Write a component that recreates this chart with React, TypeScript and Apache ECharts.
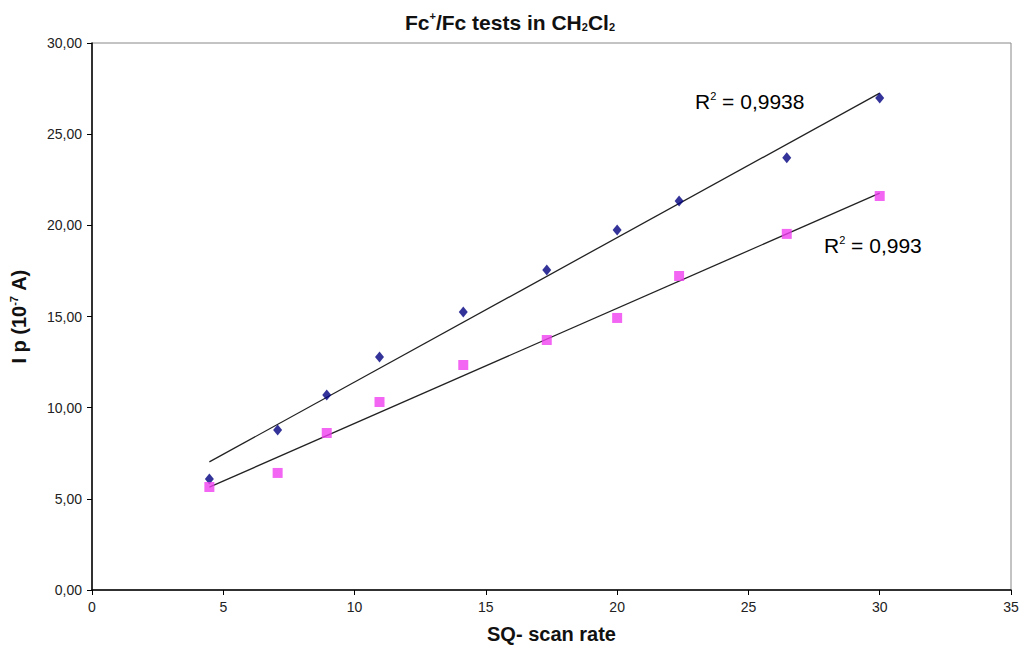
import React, { useEffect, useRef } from "react";
import * as echarts from "echarts";

// square root of the scan rate
const scanRateSqrt = [4.47, 7.07, 8.94, 10.95, 14.14, 17.32, 20.0, 22.36, 26.46, 30.0];
// peak currents, 10^-7 A
const seriesA = [6.09, 8.78, 10.7, 12.78, 15.25, 17.55, 19.75, 21.34, 23.7, 26.99];
const seriesB = [5.65, 6.42, 8.61, 10.31, 12.34, 13.71, 14.92, 17.22, 19.53, 21.61];
const r2Labels = ["0,9938", "0,993"];
const xTicks = [0, 5, 10, 15, 20, 25, 30, 35];

function linearFit(xs: number[], ys: number[]) {
  const n = xs.length;
  const mx = xs.reduce((a, b) => a + b, 0) / n;
  const my = ys.reduce((a, b) => a + b, 0) / n;
  let sxy = 0;
  let sxx = 0;
  for (let i = 0; i < n; i++) {
    sxy += (xs[i] - mx) * (ys[i] - my);
    sxx += (xs[i] - mx) * (xs[i] - mx);
  }
  const slope = sxy / sxx;
  const intercept = my - slope * mx;
  const x0 = xs[0];
  const x1 = xs[n - 1];
  return [
    [x0, slope * x0 + intercept],
    [x1, slope * x1 + intercept],
  ];
}

const font = "Arial, 'Liberation Sans', sans-serif";

export default function App() {
  const ref = useRef<HTMLDivElement>(null);
  useEffect(() => {
    const chart = echarts.init(ref.current!, null, { renderer: "svg" });
    const pairs = (ys: number[]) => scanRateSqrt.map((x, i) => [x, ys[i]]);
    const r2Rich = {
      b: { fontSize: 21, fontFamily: font, color: "#111" },
      s: { fontSize: 11, fontFamily: font, color: "#111", verticalAlign: "top", padding: [0, 0, 11, 0] },
    };
    chart.setOption({
      animation: false,
      backgroundColor: "#fff",
      title: {
        text: "{a|Fc}{sup|+}{a|/Fc tests in CH}{sub|2}{a|Cl}{sub|2}",
        left: "center",
        top: 5,
        textStyle: {
          rich: {
            a: { fontSize: 21, fontWeight: "bold", fontFamily: font, color: "#111" },
            sup: { fontSize: 11, fontWeight: "bold", fontFamily: font, color: "#111", padding: [0, 0, 13, 0] },
            sub: { fontSize: 11, fontWeight: "bold", fontFamily: font, color: "#111", padding: [10, 0, 0, 0] },
          },
        },
      },
      grid: {
        left: 92,
        right: 9,
        top: 43,
        bottom: 57,
        show: true,
        borderColor: "#888",
        borderWidth: 1,
        outerBoundsMode: "none",
      },
      xAxis: {
        type: "value",
        min: 0,
        max: 35,
        interval: 5,
        name: "SQ- scan rate",
        nameLocation: "middle",
        nameGap: 34,
        nameTextStyle: { fontSize: 20, fontWeight: "bold", fontFamily: font, color: "#111" },
        axisLine: { lineStyle: { color: "#000", width: 1.5 } },
        axisTick: { show: true, length: 5, lineStyle: { color: "#000" } },
        axisLabel: {
          fontSize: 14,
          fontFamily: font,
          color: "#222",
          margin: 10,
          formatter: (v: number) => (xTicks.includes(v) ? String(v) : ""),
        },
        splitLine: { show: false },
      },
      yAxis: {
        type: "value",
        min: 0,
        max: 30,
        interval: 5,
        name: "{a|I p (10}{sup|-7}{a| A)}",
        nameLocation: "middle",
        nameRotate: 90,
        nameGap: 62,
        nameTextStyle: {
          rich: {
            a: { fontSize: 20, fontWeight: "bold", fontFamily: font, color: "#111" },
            sup: { fontSize: 11, fontWeight: "bold", fontFamily: font, color: "#111", padding: [0, 0, 11, 0] },
          },
        },
        axisLine: { show: true, lineStyle: { color: "#000", width: 1.5 } },
        axisTick: { show: true, length: 5, lineStyle: { color: "#000" } },
        axisLabel: {
          fontSize: 14,
          fontFamily: font,
          color: "#222",
          margin: 10,
          formatter: (v: number) => v.toFixed(2).replace(".", ","),
        },
        splitLine: { show: false },
      },
      series: [
        {
          type: "line",
          data: linearFit(scanRateSqrt, seriesA),
          showSymbol: false,
          symbol: "none",
          lineStyle: { color: "#222", width: 1.3 },
          z: 1,
        },
        {
          type: "line",
          data: linearFit(scanRateSqrt, seriesB),
          showSymbol: false,
          symbol: "none",
          lineStyle: { color: "#222", width: 1.3 },
          z: 1,
        },
        {
          type: "scatter",
          data: pairs(seriesA),
          symbol: "diamond",
          symbolSize: [9, 11],
          itemStyle: { color: "#000080" },
          z: 3,
        },
        {
          type: "scatter",
          data: pairs(seriesB),
          symbol: "rect",
          symbolSize: 10,
          itemStyle: { color: "#f040f0" },
          z: 3,
        },
      ],
      graphic: [
        {
          type: "text",
          left: 695,
          top: 90,
          style: {
            text: `{b|R}{s|2}{b| = ${r2Labels[0]}}`,
            rich: r2Rich,
          },
        },
        {
          type: "text",
          left: 824,
          top: 234,
          style: {
            text: `{b|R}{s|2}{b| = ${r2Labels[1]}}`,
            rich: r2Rich,
          },
        },
      ],
    });
    return () => chart.dispose();
  }, []);
  return <div ref={ref} style={{ width: 1020, height: 647, position: "absolute", left: 0, top: 0 }} />;
}
